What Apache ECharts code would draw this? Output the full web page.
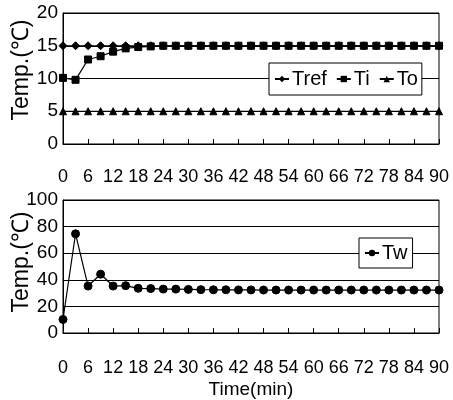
<!DOCTYPE html>
<html><head><meta charset="utf-8">
<script src="https://cdn.jsdelivr.net/npm/echarts@6/dist/echarts.min.js"></script>
<style>html,body{margin:0;padding:0;background:#fff}#c{width:453px;height:400px}</style>
</head><body><div id="c"></div>
<script>
var times = [0,3,6,9,12,15,18,21,24,27,30,33,36,39,42,45,48,51,54,57,60,63,66,69,72,75,78,81,84,87,90];
var xTicks = [0,6,12,18,24,30,36,42,48,54,60,66,72,78,84,90];
var tref = [15,15,15,15,15,15,15,15,15,15,15,15,15,15,15,15,15,15,15,15,15,15,15,15,15,15,15,15,15,15,15];
var ti = [10.1,9.8,12.9,13.4,14.1,14.6,14.8,14.9,15,15,15,15,15,15,15,15,15,15,15,15,15,15,15,15,15,15,15,15,15,15,15];
var to = [5,5,5,5,5,5,5,5,5,5,5,5,5,5,5,5,5,5,5,5,5,5,5,5,5,5,5,5,5,5,5];
var tw = [10.2,74.6,35.3,44.2,35.3,35.6,33.6,33.4,33,33,32.8,32.6,32.5,32.5,32.4,32.4,32.3,32.3,32.3,32.3,32.3,32.3,32.3,32.3,32.3,32.3,32.3,32.3,32.3,32.3,32.3];
var topYTicks = [0,5,10,15,20];
var botYTicks = [0,20,40,60,80,100];

var FONT = '"Liberation Sans Narrow", "Arial Narrow", "Liberation Sans", Arial, sans-serif';
function pairs(v){ return times.map(function(t,i){ return [t, v[i]]; }); }
function xAx(gi, margin, name){
  return {
    type:'value', gridIndex:gi, min:0, max:90, interval:6,
    axisLine:{show:true, lineStyle:{color:'#000', width:1}},
    axisTick:{show:true, inside:true, length:5, lineStyle:{color:'#000'}},
    axisLabel:{color:'#000', fontSize:18, fontFamily:FONT, margin:margin,
      formatter:function(v){ return xTicks.indexOf(v) >= 0 ? String(v) : ''; }},
    splitLine:{show:false},
    name:name, nameLocation:'middle', nameGap:47,
    nameTextStyle:{color:'#000', fontSize:19, fontFamily:FONT}
  };
}
function yAx(gi, max, interval, ticks){
  return {
    type:'value', gridIndex:gi, min:0, max:max, interval:interval,
    axisLine:{show:true, lineStyle:{color:'#000', width:1}},
    axisTick:{show:false},
    axisLabel:{color:'#000', fontSize:19, fontFamily:FONT, margin:5,
      formatter:function(v){ return ticks.indexOf(v) >= 0 ? String(v) : ''; }},
    splitLine:{show:true, lineStyle:{color:'#000', width:1}}
  };
}
function ser(name, data, sym, size, xi){
  return {
    name:name, type:'line', xAxisIndex:xi, yAxisIndex:xi, data:pairs(data),
    symbol:sym, symbolSize:size, showSymbol:true,
    lineStyle:{color:'#000', width:1.2}, itemStyle:{color:'#000', borderColor:'#000'},
    animation:false, z:3
  };
}
var chart = echarts.init(document.getElementById('c'), null, {renderer:'canvas'});
chart.setOption({
  animation:false,
  backgroundColor:'#fff',
  grid:[
    {left:63, top:13, width:376, height:131, show:true, borderColor:'#000', borderWidth:1, backgroundColor:'transparent'},
    {left:63, top:200, width:376, height:134, show:true, borderColor:'#000', borderWidth:1, backgroundColor:'transparent'}
  ],
  xAxis:[ xAx(0, 24, ''), xAx(1, 26, 'Time(min)') ],
  yAxis:[ yAx(0, 20, 5, topYTicks), yAx(1, 100, 20, botYTicks) ],
  legend:[
    {data:['Tref','Ti','To'], left:269, top:63, orient:'horizontal', itemGap:9, itemWidth:14, itemHeight:8,
     padding:[6,4,6,5], backgroundColor:'#fff', borderColor:'#000', borderWidth:1,
     textStyle:{color:'#000', fontSize:20, fontFamily:FONT, padding:[0,0,0,-2]}},
    {data:['Tw'], left:359, top:238, itemWidth:14, itemHeight:8,
     padding:[5,5,5,5], backgroundColor:'#fff', borderColor:'#000', borderWidth:1,
     textStyle:{color:'#000', fontSize:20, fontFamily:FONT, padding:[0,0,0,-2]}}
  ],
  graphic:[
    {type:'text', x:22, y:70, rotation:Math.PI/2, style:{text:'Temp.(℃)', fill:'#000', font:'23px '+FONT, textAlign:'center', textVerticalAlign:'middle'}},
    {type:'text', x:22, y:262, rotation:Math.PI/2, style:{text:'Temp.(℃)', fill:'#000', font:'23px '+FONT, textAlign:'center', textVerticalAlign:'middle'}}
  ],
  series:[
    ser('Tref', tref, 'diamond', 8, 0),
    ser('Ti', ti, 'rect', 7, 0),
    ser('To', to, 'triangle', 7, 0),
    ser('Tw', tw, 'circle', 8, 1)
  ]
});
</script></body></html>
